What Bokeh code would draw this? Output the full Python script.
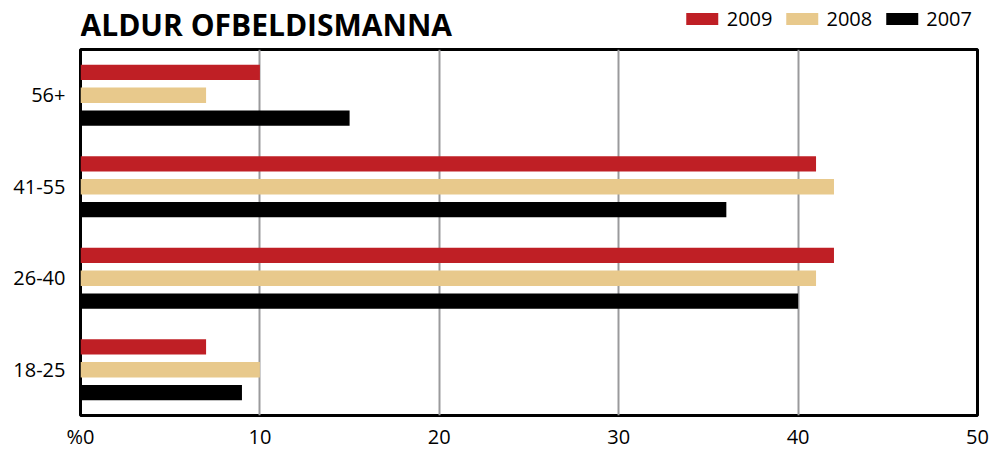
from bokeh.plotting import figure
from bokeh.models import (FactorRange, Range1d, FixedTicker, Legend, LegendItem,
                          ColumnDataSource, Label)
from bokeh.layouts import column
from bokeh.transform import dodge
from bokeh.embed import file_html
from bokeh.resources import INLINE

categories = ["18-25", "26-40", "41-55", "56+"]
v2009 = [7, 42, 41, 10]
v2008 = [10, 41, 42, 7]
v2007 = [9, 40, 36, 15]
x_ticks = [0, 10, 20, 30, 40, 50]
x_tick_labels = ["%0", "10", "20", "30", "40", "50"]
title_text = "ALDUR OFBELDISMANNA"
series_names = ["2009", "2008", "2007"]

RED = "#BF1F25"
TAN = "#E8C98C"
BLACK = "#000000"
COLORS = [RED, TAN, BLACK]
FONT = "Open Sans"
W = 989
HEAD_H = 47
MAIN_H = 405

# ---- header: title + legend (frame aligned with the chart frame by the column) ----
head = figure(width=W, height=HEAD_H, output_backend="svg", toolbar_location=None,
              x_range=Range1d(0, 1), y_range=Range1d(0, HEAD_H),
              x_axis_location=None, y_axis_location=None,
              min_border=0, outline_line_color=None)
head.grid.visible = False
items = []
for name, col in zip(series_names, COLORS):
    swatch = ColumnDataSource(dict(y=[0], right=[0]))
    r = head.hbar(y="y", right="right", left=0, height=0, source=swatch,
                  fill_color=col, line_color=None)
    items.append(LegendItem(label=name, renderers=[r]))
legend = Legend(items=items, orientation="horizontal", location="top_right",
                glyph_width=40, glyph_height=15, label_text_font=FONT,
                label_text_font_size="20px", label_standoff=5, spacing=9,
                padding=0, margin=5, border_line_color=None, background_fill_alpha=0,
                label_text_color="#000000", label_text_baseline="middle")
head.add_layout(legend, "center")
head.add_layout(Label(x=0, y=HEAD_H - 24, text=title_text, text_font=FONT,
                      text_font_size="30px", text_font_style="bold", text_color="#000000",
                      text_baseline="middle", text_align="left"))

# ---- main chart ----
src = ColumnDataSource(dict(cat=categories, v2009=v2009, v2008=v2008, v2007=v2007))

p = figure(width=W, height=MAIN_H, output_backend="svg", toolbar_location=None,
           y_range=FactorRange(factors=categories, range_padding=0),
           x_range=Range1d(0, 50),
           min_border_left=80, min_border_right=12, min_border_top=2, min_border_bottom=0)

for key, off, col in zip(["v2009", "v2008", "v2007"], [0.25, 0.0, -0.25], COLORS):
    p.hbar(y=dodge("cat", off, range=p.y_range), left=0, right=key, height=0.168,
           source=src, fill_color=col, line_color=None)

p.xaxis.ticker = FixedTicker(ticks=x_ticks)
p.xaxis.major_label_overrides = {t: l for t, l in zip(x_ticks, x_tick_labels)}
for ax in (p.xaxis[0], p.yaxis[0]):
    ax.axis_line_color = None
    ax.major_tick_line_color = None
    ax.minor_tick_line_color = None
    ax.major_tick_out = 0
    ax.major_tick_in = 0
    ax.major_label_text_font = FONT
    ax.major_label_text_font_size = "20px"
    ax.major_label_text_color = "#000000"
p.xaxis.major_label_standoff = 7
p.yaxis.major_label_standoff = 15

p.xgrid.grid_line_color = "#9A9A9C"
p.xgrid.grid_line_width = 2
p.ygrid.grid_line_color = None

p.outline_line_color = "#000000"
p.outline_line_width = 3
p.outline_line_alpha = 1.0

layout = column(head, p, spacing=0)
open("out.html", "w").write(file_html(layout, INLINE))
